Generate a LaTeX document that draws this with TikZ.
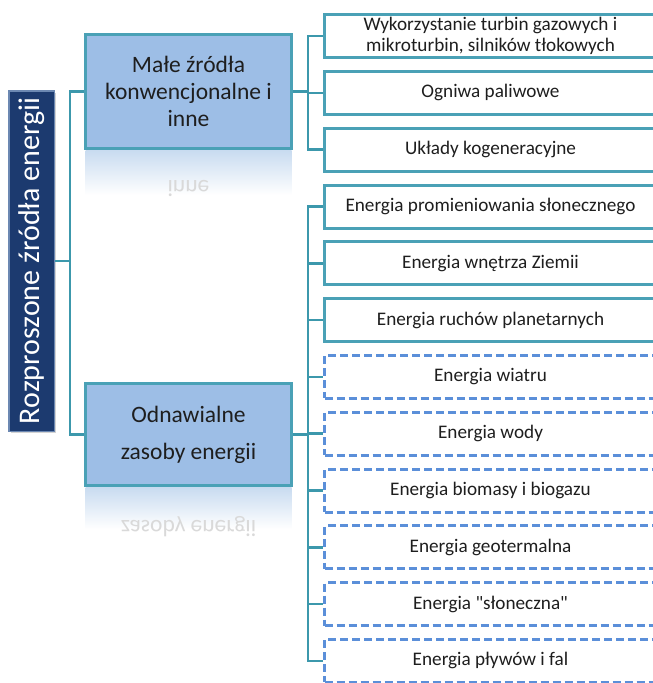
\documentclass[tikz,border=0pt]{standalone}
\usepackage{fontspec}
\usepackage{graphicx}
\setmainfont{Carlito}
\usetikzlibrary{positioning,shadows,calc}

\definecolor{rootfill}{HTML}{1C3A6F}
\definecolor{rootedge}{HTML}{6C88B2}
\definecolor{midfill}{HTML}{9DBEE6}
\definecolor{boxteal}{HTML}{4AA1B6}
\definecolor{linkteal}{HTML}{3C98AC}
\definecolor{dashblue}{HTML}{5B8FD9}
\definecolor{reflblue}{HTML}{C8DBF0}
\definecolor{inktext}{HTML}{1E1E1E}

\begin{document}
\begin{tikzpicture}[
    x=1pt, y=-1pt,
    node distance=10.8pt and 15pt,
    rootbox/.style={
        draw=rootedge, line width=1.5pt,
        fill=rootfill, text=white,
        minimum width=45.5pt, minimum height=340.5pt,
        inner sep=0pt,
        font=\fontsize{30}{34}\selectfont,
        drop shadow={shadow xshift=2pt, shadow yshift=-2pt, opacity=0.35}
    },
    midbox/.style={
        draw=boxteal, line width=3pt,
        fill=midfill, text=inktext,
        minimum width=206pt,
        align=center,
        font=\fontsize{23.5}{27}\selectfont
    },
    leaf/.style={
        draw=boxteal, line width=3pt,
        fill=white, text=inktext,
        minimum width=332pt, minimum height=43pt,
        inner sep=0pt,
        align=center,
        font=\fontsize{19.2}{21}\selectfont
    },
    dleaf/.style={leaf, draw=dashblue, dash pattern=on 8pt off 4pt},
    link/.style={draw=linkteal, line width=2.5pt},
    mirror/.style={yscale=-1, anchor=base, text=gray!30,
        font=\fontsize{23.5}{27}\selectfont},
]
\useasboundingbox (0,0) rectangle (653,683);
\clip (0,0) rectangle (653,683);

% root and the two branches
\node[rootbox] (root) at (31.5,261) {\rotatebox{90}{Rozproszone źródła energii}};

\node[midbox, minimum height=114pt] (small) at (188.5,91.5)
    {Małe źródła\\konwencjonalne i\\inne};
\node[midbox, minimum height=102pt, font=\fontsize{23.5}{37}\selectfont] (renew) at (188.5,434.5)
    {Odnawialne\\zasoby energii};

% reflections under the branches
\shade[top color=reflblue, bottom color=white]
    ($(small.south west)+(1.5,0)$) rectangle ($(small.south east)+(-1.5,45)$);
\node[mirror] (smallrefl) at (188.5,180) {inne};
\shade[top color=reflblue, bottom color=white]
    ($(renew.south west)+(1.5,0)$) rectangle ($(renew.south east)+(-1.5,42)$);
\node[mirror] (renewrefl) at (188.5,520) {zasoby energii};

% small conventional sources
\node[leaf] (turb) at (490.5,36) {Wykorzystanie turbin gazowych i\\mikroturbin, silników tłokowych};
\node[leaf, below=of turb] (cell) {Ogniwa paliwowe};
\node[leaf, below=of cell] (chp) {Układy kogeneracyjne};

% renewable sources
\node[leaf] (solar) at (490.5,206.5) {Energia promieniowania słonecznego};
\node[leaf, below=of solar] (inner) {Energia wnętrza Ziemii};
\node[leaf, below=of inner] (planet) {Energia ruchów planetarnych};
\node[dleaf, below=of planet] (wind) {Energia wiatru};
\node[dleaf, below=of wind] (water) {Energia wody};
\node[dleaf, below=of water] (bio) {Energia biomasy i biogazu};
\node[dleaf, below=of bio] (geo) {Energia geotermalna};
\node[dleaf, below=of geo] (sun) {Energia \textquotedbl słoneczna\textquotedbl};
\node[dleaf, below=of sun] (tide) {Energia pływów i fal};

% connectors
\coordinate (rj) at ($(root.east)+(15,0)$);
\draw[link] (root.east) -- (rj);
\draw[link] (rj) |- (small.west);
\draw[link] (rj) |- (renew.west);

\coordinate (sj) at ($(small.east)+(15,0)$);
\draw[link] (small.east) -- (sj);
\draw[link] (sj) |- (turb.west);
\draw[link] (sj) |- (cell.west);
\draw[link] (sj) |- (chp.west);

\coordinate (nj) at ($(renew.east)+(15,0)$);
\draw[link] (renew.east) -- (nj);
\draw[link] (nj) |- (solar.west);
\draw[link] (nj) |- (inner.west);
\draw[link] (nj) |- (planet.west);
\draw[link] (nj) |- (wind.west);
\draw[link] (nj) |- (water.west);
\draw[link] (nj) |- (bio.west);
\draw[link] (nj) |- (geo.west);
\draw[link] (nj) |- (sun.west);
\draw[link] (nj) |- (tide.west);

\end{tikzpicture}
\end{document}
